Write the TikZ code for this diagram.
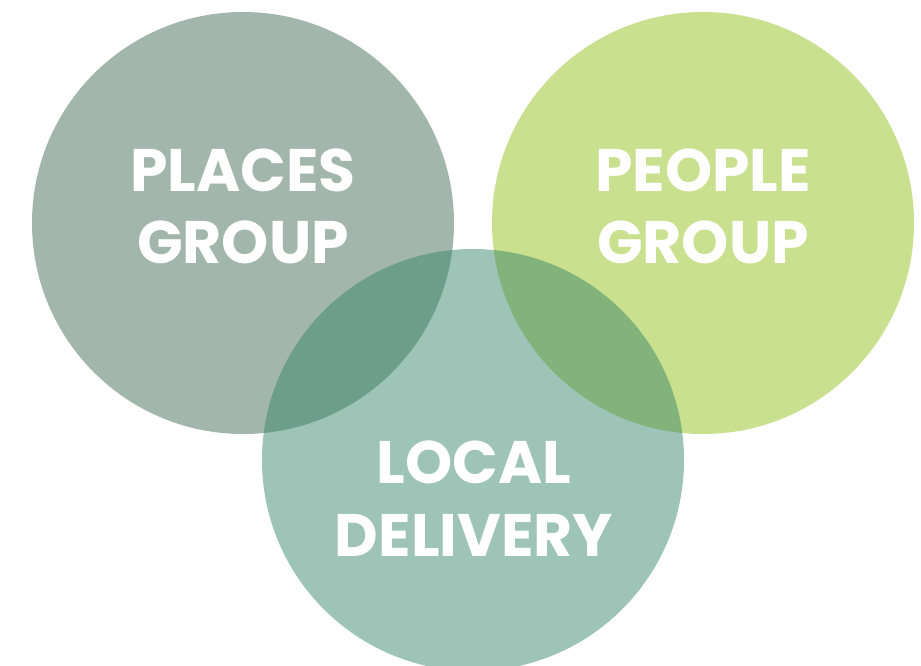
\documentclass[tikz,border=0pt]{standalone}
\usepackage{fontspec}
\setmainfont{Poppins}
\newfontfamily\popb{Poppins}[UprightFont=* Bold]
\definecolor{placesc}{HTML}{A2B6AD}
\definecolor{peoplec}{HTML}{C9E08E}
\definecolor{localc}{HTML}{338467}
\begin{document}
\begin{tikzpicture}[x=1pt,y=-1pt,
  lbl/.style={text=white,font=\popb\fontsize{60}{72}\selectfont,anchor=base,inner sep=0pt}]
\useasboundingbox (0,0) rectangle (921,665);
\fill[white] (0,0) rectangle (921,665);
\fill[placesc] (243,223) circle[radius=211];
\fill[peoplec] (703,223) circle[radius=211];
\fill[localc,fill opacity=0.48] (473,460) circle[radius=211];
\node[lbl] (p1) at (243,191) {PLACES};
\node[lbl] (p2) at (243,263) {GROUP};
\node[lbl] (q1) at (703,191) {PEOPLE};
\node[lbl] (q2) at (703,263) {GROUP};
\node[lbl] (l1) at (474,483) {LOCAL};
\node[lbl] (l2) at (474,556) {DELIVERY};
\end{tikzpicture}
\end{document}
